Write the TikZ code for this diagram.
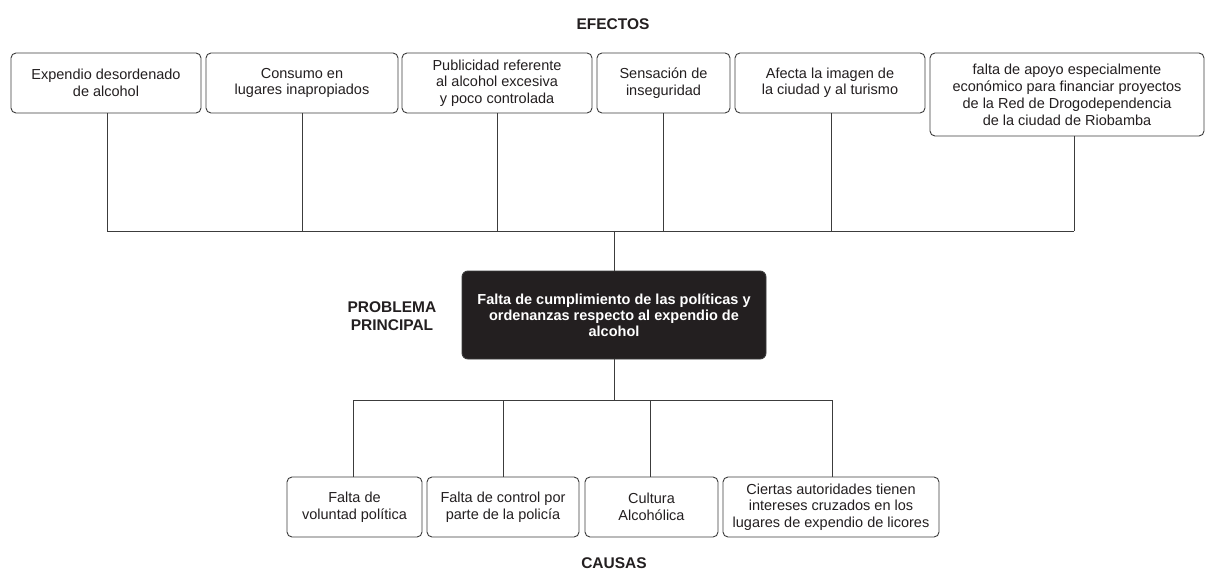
\documentclass[tikz,border=0pt]{standalone}
\usepackage{fontspec}
\setmainfont{Liberation Sans}
\definecolor{ink}{HTML}{231F20}
\definecolor{wire}{HTML}{3C3C3C}
\tikzset{
  box/.style={draw=wire, line width=0.9pt, rounded corners=5pt, inner sep=0pt,
    align=center, text=ink, font=\fontsize{14.5}{16.5}\selectfont},
  mainbox/.style={draw=wire, fill=ink, line width=0.9pt, rounded corners=6pt, inner sep=0pt,
    align=center, text=white, font=\fontsize{14.5}{15.8}\selectfont\bfseries},
  lbl/.style={align=center, text=ink, inner sep=0pt, font=\fontsize{15.5}{18}\selectfont\bfseries},
  wireline/.style={draw=wire, line width=0.9pt}
}
\begin{document}
\begin{tikzpicture}[x=1pt,y=-1pt]
\useasboundingbox (0,0) rectangle (1205,572);
\fill[white] (0,0) rectangle (1205,572);

\node[lbl] (efectos) at (613,24) {EFECTOS};
\node[lbl] (causas) at (614,563) {CAUSAS};
\node[lbl] (problema) at (392,316) {PROBLEMA\\PRINCIPAL};

% effects
\node[box, minimum width=190pt, minimum height=60pt] (e1) at (106,83) {Expendio desordenado\\de alcohol};
\node[box, minimum width=192pt, minimum height=60pt] (e2) at (302,83) {Consumo en\\lugares inapropiados};
\node[box, minimum width=190pt, minimum height=60pt] (e3) at (497,83) {Publicidad referente\\al alcohol excesiva\\y poco controlada};
\node[box, minimum width=133pt, minimum height=60pt] (e4) at (663.5,83) {Sensación de\\inseguridad};
\node[box, minimum width=190pt, minimum height=60pt] (e5) at (830,83) {Afecta la imagen de\\la ciudad y al turismo};
\node[box, minimum width=274pt, minimum height=83pt, font=\fontsize{14.5}{17}\selectfont] (e6) at (1067,94.5) {falta de apoyo especialmente\\económico para financiar proyectos\\de la Red de Drogodependencia\\de la ciudad de Riobamba};

% main problem
\node[mainbox, minimum width=304pt, minimum height=88pt] (m) at (614,315) {Falta de cumplimiento de las políticas y\\ordenanzas respecto al expendio de\\alcohol};

% causes
\node[box, minimum width=135pt, minimum height=60pt] (c1) at (354.5,507) {Falta de\\voluntad política};
\node[box, minimum width=152pt, minimum height=60pt] (c2) at (503,507) {Falta de control por\\parte de la policía};
\node[box, minimum width=133pt, minimum height=60pt] (c3) at (651.5,507) {Cultura\\Alcohólica};
\node[box, minimum width=216pt, minimum height=60pt] (c4) at (831,507) {Ciertas autoridades tienen\\intereses cruzados en los\\lugares de expendio de licores};

% top bus
\coordinate (tb) at (614,231);
\coordinate (e6s) at (1074,136);
\draw[wireline] ([xshift=1pt]e1.south) -- ([xshift=1pt]e1.south |- tb);
\draw[wireline] (e2.south) -- (e2.south |- tb);
\draw[wireline] (e3.south) -- (e3.south |- tb);
\draw[wireline] (e4.south) -- (e4.south |- tb);
\draw[wireline] ([xshift=1pt]e5.south) -- ([xshift=1pt]e5.south |- tb);
\draw[wireline] (e6s) -- (e6s |- tb);
\draw[wireline] ([xshift=1pt]e1.south |- tb) -- (e6s |- tb);
\draw[wireline] (tb) -- (m.north);

% bottom bus
\coordinate (bb) at (614,400);
\coordinate (c1n) at (353,477);
\coordinate (c3n) at (650,477);
\coordinate (c4n) at (832,477);
\draw[wireline] (m.south) -- (bb);
\draw[wireline] (c1n |- bb) -- (c4n |- bb);
\draw[wireline] (c1n |- bb) -- (c1n);
\draw[wireline] (c2.north |- bb) -- (c2.north);
\draw[wireline] (c3n |- bb) -- (c3n);
\draw[wireline] (c4n |- bb) -- (c4n);
\end{tikzpicture}
\end{document}
